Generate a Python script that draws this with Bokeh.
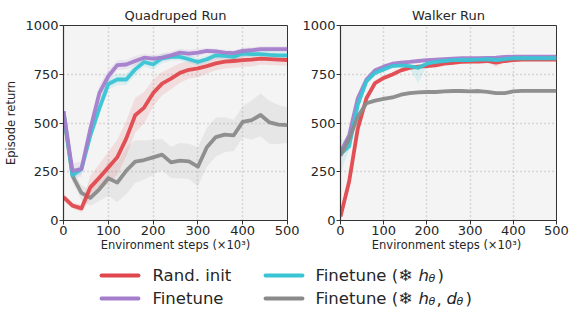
from bokeh.plotting import figure
from bokeh.layouts import column, row
from bokeh.models import Range1d, FixedTicker
from bokeh.core.properties import value
from bokeh.embed import file_html
from bokeh.resources import INLINE

steps = list(range(0, 501, 20))
x_ticks = [0, 100, 200, 300, 400, 500]
y_ticks = [0, 250, 500, 750, 1000]
x_label = "Environment steps (×10³)"
y_label = "Episode return"

# Quadruped Run
quad_rand = [120, 76, 62, 170, 220, 272, 324, 420, 540, 579, 653, 702, 728, 757, 773, 780, 792, 806, 815, 818, 822, 825, 830, 828, 825, 823]
quad_rand_sd = [20, 15, 20, 60, 70, 80, 90, 90, 90, 80, 70, 60, 55, 50, 45, 45, 40, 35, 35, 35, 35, 35, 30, 30, 30, 30]
quad_ft = [560, 255, 263, 471, 653, 740, 797, 800, 818, 835, 830, 835, 847, 861, 856, 861, 870, 867, 861, 858, 870, 873, 879, 879, 879, 879]
quad_ft_sd = [20, 40, 40, 40, 40, 30, 25, 25, 25, 20, 20, 20, 20, 20, 20, 20, 15, 15, 15, 15, 15, 15, 15, 15, 15, 15]
quad_fth = [560, 232, 263, 437, 575, 700, 723, 723, 775, 813, 800, 832, 839, 839, 827, 813, 827, 847, 844, 839, 856, 853, 853, 849, 847, 847]
quad_fth_sd = [20, 20, 25, 30, 35, 30, 30, 30, 30, 25, 25, 25, 20, 20, 20, 20, 20, 20, 20, 20, 20, 20, 20, 20, 20, 20]
quad_fthd = [550, 229, 142, 116, 160, 217, 194, 255, 302, 310, 324, 338, 298, 307, 303, 276, 376, 428, 440, 437, 506, 515, 541, 503, 492, 489]
quad_fthd_sd = [20, 30, 40, 40, 60, 90, 100, 120, 110, 100, 90, 80, 80, 90, 90, 100, 100, 100, 90, 80, 80, 100, 110, 110, 100, 90]

# Walker Run
walk_rand = [20, 200, 471, 627, 705, 731, 749, 770, 783, 789, 792, 796, 804, 809, 813, 815, 815, 818, 809, 818, 822, 825, 825, 825, 825, 825]
walk_rand_sd = [10, 15, 15, 15, 12, 10, 10, 10, 10, 8, 8, 8, 8, 8, 8, 8, 8, 8, 22, 8, 8, 8, 8, 8, 8, 8]
walk_ft = [350, 437, 627, 723, 770, 789, 804, 809, 813, 818, 822, 825, 828, 830, 832, 832, 832, 834, 835, 839, 840, 840, 840, 840, 840, 840]
walk_ft_sd = [25, 15, 12, 10, 8, 8, 6, 6, 6, 6, 6, 6, 6, 6, 6, 6, 6, 6, 6, 6, 6, 6, 6, 6, 6, 6]
walk_fth = [340, 380, 593, 714, 757, 775, 792, 796, 792, 783, 804, 813, 818, 822, 823, 823, 825, 827, 823, 827, 832, 832, 832, 832, 832, 832]
walk_fth_lo = [94, 20, 15, 12, 10, 8, 8, 8, 15, 78, 10, 8, 8, 8, 8, 8, 8, 8, 8, 8, 8, 8, 8, 8, 8, 8]
walk_fth_hi = [80, 20, 15, 12, 10, 8, 8, 8, 8, 8, 8, 8, 8, 8, 8, 8, 8, 8, 8, 8, 8, 8, 8, 8, 8, 8]
walk_fthd = [333, 419, 532, 601, 615, 624, 631, 645, 653, 657, 659, 659, 662, 664, 664, 662, 664, 660, 653, 653, 662, 665, 665, 665, 665, 665]
walk_fthd_sd = [12, 12, 10, 10, 10, 10, 10, 10, 8, 8, 8, 8, 8, 8, 8, 8, 8, 8, 8, 8, 8, 8, 8, 8, 8, 8]

RED = "#e0474c"
PURPLE = "#a47dcb"
CYAN = "#38c4d4"
GRAY = "#8a8a8a"
TXT = "#262626"
FONT = value("DejaVu Sans")

MAIN_H = 237
TOTAL_W, TOTAL_H = 570, 309


def panel(title, width, bl, br, series, ylabel):
    p = figure(width=width, height=MAIN_H, x_range=Range1d(0, 500), y_range=Range1d(0, 1000),
               output_backend="svg", toolbar_location=None,
               min_border_left=bl, min_border_right=br, min_border_top=25, min_border_bottom=0,
               title=title)
    p.title.align = "center"
    p.title.text_font = "DejaVu Sans"
    p.title.text_font_size = "13px"
    p.title.text_font_style = "normal"
    p.title.text_color = TXT
    p.title.offset = 0
    p.title.standoff = 5
    p.background_fill_color = "#f4f4f4"
    p.border_fill_color = "white"
    p.outline_line_color = "#333333"
    p.outline_line_width = 1
    for ax in (p.xaxis[0], p.yaxis[0]):
        ax.axis_line_color = "#333333"
        ax.axis_line_width = 1.2
        ax.major_tick_line_color = "#333333"
        ax.major_tick_out = 4
        ax.major_tick_in = 0
        ax.minor_tick_line_color = None
        ax.major_label_text_font = "DejaVu Sans"
        ax.major_label_text_font_size = "13px"
        ax.major_label_text_color = TXT
        ax.major_label_standoff = 1
        ax.axis_label_text_font = "DejaVu Sans"
        ax.axis_label_text_font_size = "11.5px"
        ax.axis_label_text_font_style = "normal"
        ax.axis_label_text_color = TXT
        ax.axis_label_standoff = 4
    p.xaxis.ticker = FixedTicker(ticks=x_ticks)
    p.yaxis.ticker = FixedTicker(ticks=y_ticks)
    if ylabel:
        p.yaxis.axis_label = y_label
    p.grid.grid_line_color = "#b8b8b8"
    p.grid.grid_line_dash = "1 3"
    p.grid.grid_line_width = 1.5
    for ys, lo, hi, col in series:
        p.varea(x=steps, y1=[y - d for y, d in zip(ys, lo)], y2=[y + d for y, d in zip(ys, hi)],
                fill_color=col, fill_alpha=0.13)
    for ys, lo, hi, col in series:
        p.line(steps, ys, line_color=col, line_width=3.8, line_alpha=0.95, line_join="round")
    return p


P1_W = 299
p1 = panel("Quadruped Run", P1_W, 63, 12, [
    (quad_fthd, quad_fthd_sd, quad_fthd_sd, GRAY),
    (quad_rand, quad_rand_sd, quad_rand_sd, RED),
    (quad_fth, quad_fth_sd, quad_fth_sd, CYAN),
    (quad_ft, quad_ft_sd, quad_ft_sd, PURPLE),
], True)

P2_BL = 37
p2 = panel("Walker Run", TOTAL_W - P1_W, P2_BL, 14, [
    (walk_rand, walk_rand_sd, walk_rand_sd, RED),
    (walk_ft, walk_ft_sd, walk_ft_sd, PURPLE),
    (walk_fth, walk_fth_lo, walk_fth_hi, CYAN),
    (walk_fthd, walk_fthd_sd, walk_fthd_sd, GRAY),
], False)

# bottom strip: x-axis titles and legend (coordinates are pixels of this strip)
LG_W, LG_H = TOTAL_W, TOTAL_H - MAIN_H
lg = figure(width=LG_W, height=LG_H, x_range=Range1d(0, LG_W), y_range=Range1d(LG_H, 0),
            output_backend="svg", toolbar_location=None,
            min_border_left=0, min_border_right=0, min_border_top=0, min_border_bottom=0)
lg.axis.visible = False
lg.grid.visible = False
lg.outline_line_color = None
lg.background_fill_color = "white"
lg.border_fill_color = "white"


def txt(x, y, s, size="16.5px", style="normal", dy=0, align="left"):
    lg.text(x=[x], y=[y + dy], text=[s], text_font=FONT, text_font_size=size,
            text_font_style=style, text_color=TXT, text_baseline="middle", text_align=align)


# axis titles under each panel (centred on the frames)
txt(63 + 224 / 2, 7, x_label, size="11.5px", align="center")
txt(P1_W + P2_BL + (TOTAL_W - P1_W - P2_BL - 14) / 2, 7, x_label, size="11.5px", align="center")

r1, r2 = 38, 61
legend_lines = [(101, 138, r1, RED), (101, 138, r2, PURPLE), (265, 302, r1, CYAN), (265, 302, r2, GRAY)]
for x0, x1, yy, col in legend_lines:
    lg.line([x0, x1], [yy, yy], line_color=col, line_width=3.8, line_cap="round")

txt(152, r1, "Rand. init")
txt(152, r2, "Finetune")
txt(315, r1, "Finetune (❄")
txt(418, r1, "h", style="italic")
txt(428, r1, "θ", size="11px", style="italic", dy=3)
txt(437, r1, ")")
txt(315, r2, "Finetune (❄")
txt(418, r2, "h", style="italic")
txt(428, r2, "θ", size="11px", style="italic", dy=3)
txt(436, r2, ",")
txt(446, r2, "d", style="italic")
txt(456, r2, "θ", size="11px", style="italic", dy=3)
txt(465, r2, ")")

layout = column(row(p1, p2), lg)
open("out.html", "w").write(file_html(layout, INLINE))
